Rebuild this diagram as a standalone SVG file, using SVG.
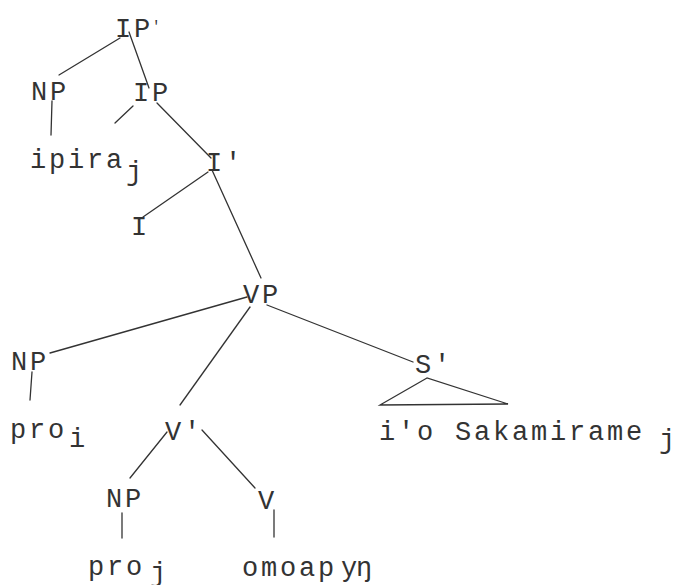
<svg xmlns="http://www.w3.org/2000/svg" width="675" height="585" viewBox="0 0 675 585">
<style>
text{font-family:"Liberation Mono","Courier New",monospace;font-size:27px;letter-spacing:2.8px;fill:#333}
#edges line,#edges polygon{stroke:#333;stroke-width:1.3;fill:none;stroke-linecap:round}
</style>
<rect width="675" height="585" fill="#fff"/>
<g id="edges">
<line x1="120" y1="38" x2="59" y2="75"/>
<line x1="129" y1="32" x2="149" y2="88"/>
<line x1="52" y1="101" x2="51" y2="135"/>
<line x1="133" y1="106" x2="115" y2="123"/>
<line x1="157" y1="103" x2="211" y2="158"/>
<line x1="208" y1="172" x2="143" y2="217"/>
<line x1="212" y1="170" x2="261" y2="278"/>
<line x1="247" y1="297" x2="50" y2="353"/>
<line x1="250" y1="307" x2="180" y2="405"/>
<line x1="267" y1="305" x2="413" y2="362"/>
<line x1="32" y1="372" x2="30" y2="400"/>
<line x1="167" y1="432" x2="130" y2="478"/>
<line x1="202" y1="430" x2="255" y2="488"/>
<line x1="122" y1="513" x2="122" y2="538"/>
<line x1="274" y1="510" x2="274" y2="537"/>
<polygon points="427,378 380,405 508,404"/>
</g>
<g id="n-ip-top"><text x="115" y="37">IP<tspan dx="-1" dy="-6" font-size="14">'</tspan></text></g>
<g id="n-np1"><text x="31" y="100">NP</text></g>
<g id="n-ip"><text x="133" y="101">IP</text></g>
<g id="n-ipira"><text x="30" y="168">ipira<tspan x="126" dy="12">j</tspan></text></g>
<g id="n-ibar"><text x="206" y="171">I'</text></g>
<g id="n-i"><text x="131" y="235">I</text></g>
<g id="n-vp"><text x="243" y="303">VP</text></g>
<g id="n-np2"><text x="11" y="370">NP</text></g>
<g id="n-pro1"><text x="10" y="438">pro<tspan dx="2" dy="9">i</tspan></text></g>
<g id="n-vbar"><text x="165" y="440">V'</text></g>
<g id="n-np3"><text x="106" y="507">NP</text></g>
<g id="n-v"><text x="258" y="509">V</text></g>
<g id="n-pro2"><text x="88" y="575">pro<tspan dx="5" dy="6">j</tspan></text></g>
<g id="n-omoapy"><text x="242" y="576">omoap<tspan dx="4">y</tspan><tspan dx="-4">ŋ</tspan></text></g>
<g id="n-sbar"><text x="415" y="373">S'</text></g>
<g id="n-clause"><text x="379" y="440">i'o Sakamirame<tspan x="659" dy="8">j</tspan></text></g>
</svg>
